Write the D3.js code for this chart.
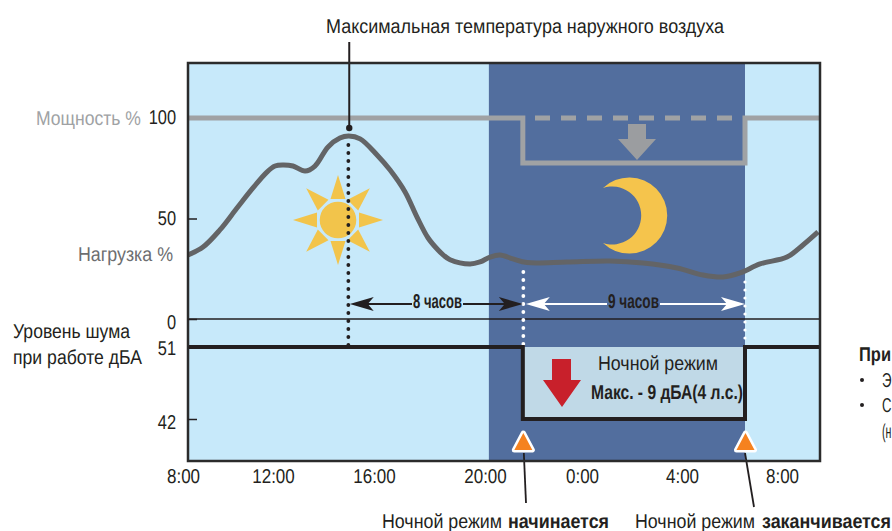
<!DOCTYPE html>
<html>
<head>
<meta charset="utf-8">
<script src="https://cdn.jsdelivr.net/npm/d3@7"></script>
<style>
  html, body { margin: 0; background: #fff; overflow: hidden; }
  svg { display: block; }
  text { font-family: "Liberation Sans", sans-serif; font-size: 20px; fill: #231f20; text-rendering: geometricPrecision; }
  .domain { display: none; }
</style>
</head>
<body>
<div id="chart"></div>
<script>
// Data
const hourTicks = [8, 12, 16, 20, 24, 28, 32]
const hourTickLabels = ['8:00', '12:00', '16:00', '20:00', '0:00', '4:00', '8:00']
const powerTicks = [100, 50, 0]
const noiseTicks = [51, 42]

const loadHours = [8.2, 8.89, 9.64, 10.4, 11.11, 11.73, 12.08, 12.4, 12.79, 13.27, 13.66, 14.18, 14.65, 15.0, 15.45, 16.11, 16.58, 17.12, 17.55, 17.95, 18.31, 18.5, 18.74, 19.46, 19.82, 20.21, 20.62, 21.15, 21.73, 23.38, 25.12, 26.44, 27.8, 28.84, 29.64, 30.32, 31.12, 32.2, 32.84, 33.44]
const loadValues = [31.8, 35.8, 44.3, 55.2, 65.2, 73.1, 76.1, 76.6, 76.1, 73.6, 76.1, 85.6, 90, 91, 89.6, 81.6, 74.1, 63.2, 50.7, 40.3, 34.3, 31.8, 29.5, 27.4, 28.4, 30.8, 31.8, 29.9, 28.1, 28.4, 28.9, 27.9, 25.4, 21.9, 20.9, 22.9, 27.4, 30.8, 36.8, 43.3]

const peakHour = 15
const darkStart = 20.16
const nightStart = 21.56
const nightEnd = 30.52
const hourEnd = 33.52
const powerDay = 100
const powerNight = 77.6
const noiseDay = 51
const noiseNight = 42

// Dimensions
const dimensions = { width: 892, height: 531, left: 188, right: 820, top: 63, bottom: 461 }
const colors = {
  sky: '#c7e9fa', night: '#526e9e', box: '#c0d9e7', frame: '#2b2b2b', ink: '#231f20',
  power: '#a0a2a4', load: '#636466', sun: '#f2c44b', red: '#c8202b', orange: '#f5821f'
}

// Scales
const xScale = d3.scaleLinear().domain(hourTicks).range([183, 273, 374, 485, 582, 682, 782])
const powerScale = d3.scaleLinear().domain([0, 100]).range([319, 118])
const noiseScale = d3.scaleLinear().domain([42, 51]).range([419, 347])

const svg = d3.select('#chart').append('svg')
  .attr('width', dimensions.width)
  .attr('height', dimensions.height)

svg.append('clipPath').attr('id', 'plot').append('rect')
  .attr('x', dimensions.left).attr('y', dimensions.top)
  .attr('width', dimensions.right - dimensions.left)
  .attr('height', dimensions.bottom - dimensions.top)

// No narrow font is installed, so text is squeezed to the measured width
function label(x, y, str, width, anchor = 'start') {
  return svg.append('text')
    .attr('x', x).attr('y', y)
    .attr('text-anchor', anchor)
    .attr('textLength', width)
    .attr('lengthAdjust', 'spacingAndGlyphs')
    .text(str)
}
function squeeze(selection, ratio) {
  selection.each(function () {
    this.setAttribute('textLength', this.getComputedTextLength() * ratio)
    this.setAttribute('lengthAdjust', 'spacingAndGlyphs')
  })
}

// Background
const plotHeight = dimensions.bottom - dimensions.top
svg.append('rect').attr('x', dimensions.left).attr('y', dimensions.top)
  .attr('width', dimensions.right - dimensions.left).attr('height', plotHeight)
  .attr('fill', colors.sky)
svg.append('rect').attr('x', xScale(darkStart)).attr('y', dimensions.top)
  .attr('width', xScale(nightEnd) - xScale(darkStart)).attr('height', plotHeight)
  .attr('fill', colors.night)

// Night mode box
svg.append('rect').attr('x', xScale(nightStart)).attr('y', noiseScale(noiseDay))
  .attr('width', xScale(nightEnd) - xScale(nightStart))
  .attr('height', noiseScale(noiseNight) - noiseScale(noiseDay))
  .attr('fill', colors.box)

// Zero line
svg.append('line').attr('x1', dimensions.left).attr('x2', dimensions.right)
  .attr('y1', powerScale(0)).attr('y2', powerScale(0))
  .attr('stroke', colors.ink).attr('stroke-width', 1.5)

// Sun
const sun = svg.append('g').attr('transform', `translate(338, 220)`).attr('fill', colors.sun)
sun.append('circle').attr('r', 18.3)
sun.selectAll('path').data(d3.range(0, 360, 45)).join('path')
  .attr('d', 'M0,-45L7.5,-21L-7.5,-21Z')
  .attr('transform', d => `rotate(${d})`)

// Dotted guides
function dottedColumn(x, y1, y2, r, color) {
  svg.append('g').selectAll('circle')
    .data(d3.range(y1, y2, 8))
    .join('circle')
    .attr('cx', x).attr('cy', d => d).attr('r', r).attr('fill', color)
}
dottedColumn(xScale(peakHour) - 0.4, 145, 347, 1.9, colors.ink)
dottedColumn(xScale(nightStart) + 0.5, 272, 346, 1.9, '#fff')
dottedColumn(xScale(nightEnd), 282, 346, 1.6, '#fff')

// Moon
svg.append('path')
  .attr('d', 'M603,188A38,38 0 1 1 603,243A29,29 0 1 0 603,188Z')
  .attr('fill', '#f5c44c')

// Power line
const line = d3.line().x(d => xScale(d[0])).y(d => d[1])
svg.append('path')
  .datum([[8.2, powerDay], [nightStart, powerDay], [nightStart, powerNight], [nightEnd, powerNight], [nightEnd, powerDay], [hourEnd, powerDay]].map(d => [d[0], powerScale(d[1])]))
  .attr('d', line)
  .attr('fill', 'none').attr('stroke', colors.power).attr('stroke-width', 5)
svg.append('line')
  .attr('x1', 535).attr('x2', 733)
  .attr('y1', powerScale(powerDay)).attr('y2', powerScale(powerDay))
  .attr('stroke', colors.power).attr('stroke-width', 5).attr('stroke-dasharray', '15 11')
svg.append('path')
  .attr('d', 'M628,124H646V139H656L637,160L618,139H628Z')
  .attr('fill', '#9b9da0')

// Load line
svg.append('path')
  .datum(loadHours.map((h, i) => [h, loadValues[i]]))
  .attr('clip-path', 'url(#plot)')
  .attr('d', d3.line().x(d => xScale(d[0])).y(d => powerScale(d[1])).curve(d3.curveCatmullRom))
  .attr('fill', 'none').attr('stroke', colors.load).attr('stroke-width', 5)

// Noise line
svg.append('path')
  .datum([[8.2, noiseDay], [nightStart, noiseDay], [nightStart, noiseNight], [nightEnd, noiseNight], [nightEnd, noiseDay], [hourEnd, noiseDay]].map(d => [d[0], noiseScale(d[1])]))
  .attr('d', line)
  .attr('fill', 'none').attr('stroke', colors.ink).attr('stroke-width', 4)

// Peak temperature leader
svg.append('line').attr('x1', xScale(peakHour) + 0.5).attr('x2', xScale(peakHour) + 0.5)
  .attr('y1', 42).attr('y2', 128)
  .attr('stroke', colors.ink).attr('stroke-width', 2)
svg.append('circle').attr('cx', xScale(peakHour) + 0.5).attr('cy', 128).attr('r', 3.2).attr('fill', colors.ink)

// Duration arrows
function durationArrow(x1, x2, y, t1, t2, str, color) {
  const g = svg.append('g')
  g.append('line').attr('x1', x1 + 10).attr('x2', t1).attr('y1', y).attr('y2', y)
    .attr('stroke', color).attr('stroke-width', 2)
  g.append('line').attr('x1', t2).attr('x2', x2 - 10).attr('y1', y).attr('y2', y)
    .attr('stroke', color).attr('stroke-width', 2)
  g.append('path').attr('d', `M${x1},${y}l24,-7l-6,7l6,7Z`).attr('fill', color)
  g.append('path').attr('d', `M${x2},${y}l-24,-7l6,7l-6,7Z`).attr('fill', color)
  label((t1 + t2) / 2, y + 4, str, t2 - t1 - 2, 'middle')
    .style('font-weight', 'bold')
}
durationArrow(xScale(peakHour) + 1, xScale(nightStart), 304, 412, 463, '8 часов', colors.ink)
durationArrow(xScale(nightStart) + 3, xScale(nightEnd), 304, 607, 660, '9 часов', '#fff')

// Red arrow and box text
svg.append('path')
  .attr('d', 'M552,359H571V380H581L562,407L543,380H552Z')
  .attr('fill', colors.red)
label(598, 370, 'Ночной режим', 120)
label(591, 399, 'Макс. - 9 дБА(4 л.с.)', 152).style('font-weight', 'bold')

// Night mode markers
const markers = [nightStart, nightEnd]
svg.append('g').selectAll('path').data(markers).join('path')
  .attr('d', 'M0,-9L9,8L-9,8Z')
  .attr('transform', d => `translate(${xScale(d) + 0.5}, 442)`)
  .attr('fill', colors.orange).attr('stroke', '#fff').attr('stroke-width', 5)
  .attr('stroke-linejoin', 'round').style('paint-order', 'stroke')
svg.append('line').attr('x1', xScale(nightStart) + 1).attr('x2', 526).attr('y1', 453).attr('y2', 503)
  .attr('stroke', colors.ink).attr('stroke-width', 1.8)
svg.append('line').attr('x1', xScale(nightEnd)).attr('x2', 754).attr('y1', 453).attr('y2', 507)
  .attr('stroke', colors.ink).attr('stroke-width', 1.8)

// Frame
svg.append('rect').attr('x', dimensions.left).attr('y', dimensions.top)
  .attr('width', dimensions.right - dimensions.left).attr('height', plotHeight)
  .attr('fill', 'none').attr('stroke', colors.frame).attr('stroke-width', 2.5)

// Axes
const xAxis = d3.axisBottom(xScale).tickValues(hourTicks)
  .tickFormat((d, i) => hourTickLabels[i]).tickSize(0).tickPadding(8)
svg.append('g').attr('transform', `translate(0, ${dimensions.bottom})`).call(xAxis)
  .selectAll('text').style('font-size', '20px').style('font-family', null)
  .call(squeeze, 0.85)

const tickNudge = { 100: -1, 50: 0, 0: 3, 51: 1, 42: 3 }
const powerAxis = d3.axisLeft(powerScale).tickValues(powerTicks).tickSize(-9).tickPadding(12)
const powerGroup = svg.append('g').attr('transform', `translate(${dimensions.left}, 0)`).call(powerAxis)
const noiseAxis = d3.axisLeft(noiseScale).tickValues(noiseTicks).tickSize(-9).tickPadding(12)
const noiseGroup = svg.append('g').attr('transform', `translate(${dimensions.left}, 0)`).call(noiseAxis)
for (const g of [powerGroup, noiseGroup]) {
  g.selectAll('line').attr('stroke', colors.ink).attr('stroke-width', 1.5)
  g.selectAll('text').style('font-size', '20px').style('font-family', null)
    .attr('y', d => tickNudge[d])
    .call(squeeze, 0.82)
}
// The 100 tick sits under the power line in the reference
powerGroup.selectAll('line').filter(d => d === powerDay).remove()

// Labels
label(326, 33, 'Максимальная температура наружного воздуха', 398)
label(36, 125, 'Мощность %', 105).style('fill', colors.power)
label(78, 261, 'Нагрузка %', 95).style('fill', '#6d6e70')
label(13, 338, 'Уровень шума', 117)
label(13, 364, 'при работе дБА', 129)

label(382, 528, 'Ночной режим', 120)
label(508, 528, 'начинается', 101).style('font-weight', 'bold')
label(635, 528, 'Ночной режим', 120)
label(762, 528, 'заканчивается', 129).style('font-weight', 'bold')

// Note cut off by the image edge
label(859, 361, 'При', 32).style('font-weight', 'bold')
svg.append('circle').attr('cx', 862).attr('cy', 380).attr('r', 2).attr('fill', colors.ink)
label(882, 387, 'Э', 9.5)
svg.append('circle').attr('cx', 862).attr('cy', 405).attr('r', 2).attr('fill', colors.ink)
label(882, 412, 'С', 9.5)
label(882, 438, '(н', 9.5)
</script>
</body>
</html>
